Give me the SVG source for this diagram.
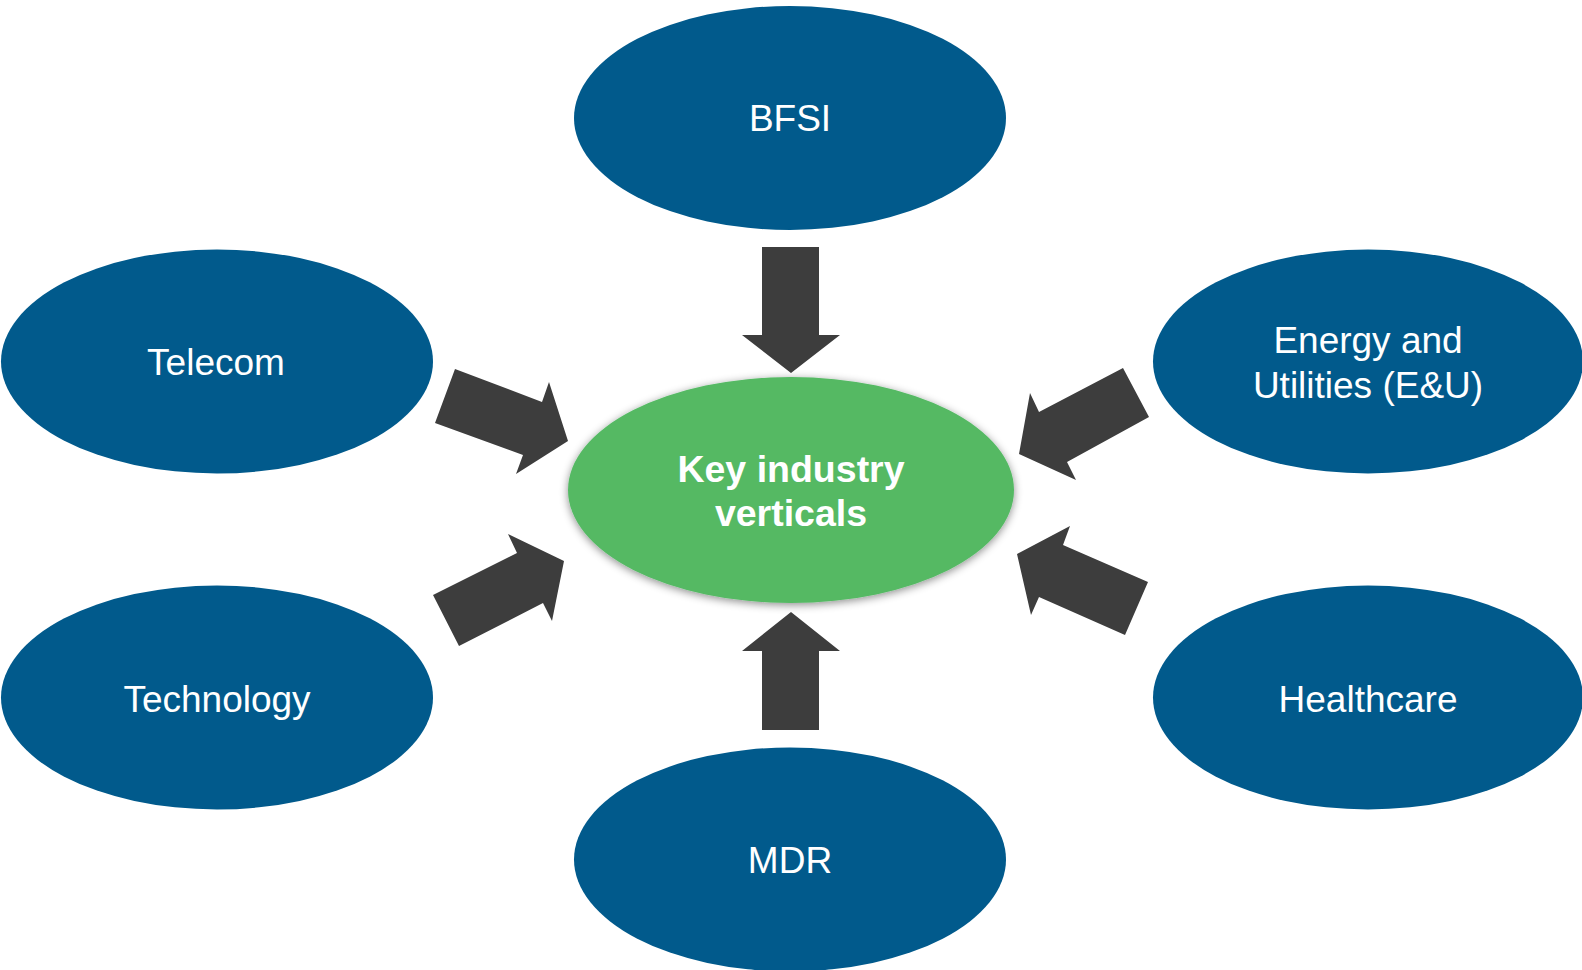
<svg xmlns="http://www.w3.org/2000/svg" width="1582" height="970" viewBox="0 0 1582 970">
<style>
.blue{fill:#015A8C}
.lbl{font-family:"Liberation Sans",Arial,sans-serif;font-size:37px;fill:#fff;text-anchor:middle}
.ctr{font-family:"Liberation Sans",Arial,sans-serif;font-size:37.5px;font-weight:bold;fill:#fff;text-anchor:middle}
.arr{fill:#3D3D3D}
</style>
<defs>
<filter id="sh" x="-10%" y="-10%" width="120%" height="125%">
<feGaussianBlur in="SourceAlpha" stdDeviation="4"/>
<feOffset dx="0" dy="2" result="b"/>
<feFlood flood-color="#000" flood-opacity="0.45"/>
<feComposite in2="b" operator="in"/>
<feMerge><feMergeNode/><feMergeNode in="SourceGraphic"/></feMerge>
</filter>
</defs>
<rect width="1582" height="970" fill="#fff"/>
<g id="connectors">
<polygon class="arr" points="762,247 819,247 819,335 840,335 791,373 742,335 762,335"/>
<polygon class="arr" points="762,730 819,730 819,651 840,651 791,612 742,651 762,651"/>
<polygon class="arr" points="455,369 542,402 549,382 568,441 516,474 523,455 435,423"/>
<polygon class="arr" points="459,646 433,595 517,553 508,534 564,561 552,621 543,603"/>
<polygon class="arr" points="1123,368 1149,417 1067,462 1076,480 1019,454 1030,393 1039,412"/>
<polygon class="arr" points="1148,582 1125,635 1039,597 1031,615 1017,554 1070,526 1063,545"/>
</g>
<g id="bfsi">
<ellipse class="blue" cx="790" cy="118" rx="216" ry="112"/>
<text class="lbl" x="790" y="131">BFSI</text>
</g>
<g id="telecom">
<ellipse class="blue" cx="217" cy="361.5" rx="216" ry="112"/>
<text class="lbl" x="216" y="375">Telecom</text>
</g>
<g id="technology">
<ellipse class="blue" cx="217" cy="697.5" rx="216" ry="112"/>
<text class="lbl" x="217" y="712">Technology</text>
</g>
<g id="mdr">
<ellipse class="blue" cx="790" cy="859.5" rx="216" ry="112"/>
<text class="lbl" x="790" y="873">MDR</text>
</g>
<g id="energy">
<ellipse class="blue" cx="1368" cy="361.5" rx="215" ry="112"/>
<text class="lbl" x="1368" y="353">Energy and</text>
<text class="lbl" x="1368" y="398">Utilities (E&amp;U)</text>
</g>
<g id="healthcare">
<ellipse class="blue" cx="1368" cy="697.5" rx="215" ry="112"/>
<text class="lbl" x="1368" y="712">Healthcare</text>
</g>
<g id="center">
<ellipse cx="791" cy="490" rx="223" ry="113" fill="#54B964" filter="url(#sh)"/>
<text class="ctr" x="791" y="482">Key industry</text>
<text class="ctr" x="791" y="526">verticals</text>
</g>
</svg>
